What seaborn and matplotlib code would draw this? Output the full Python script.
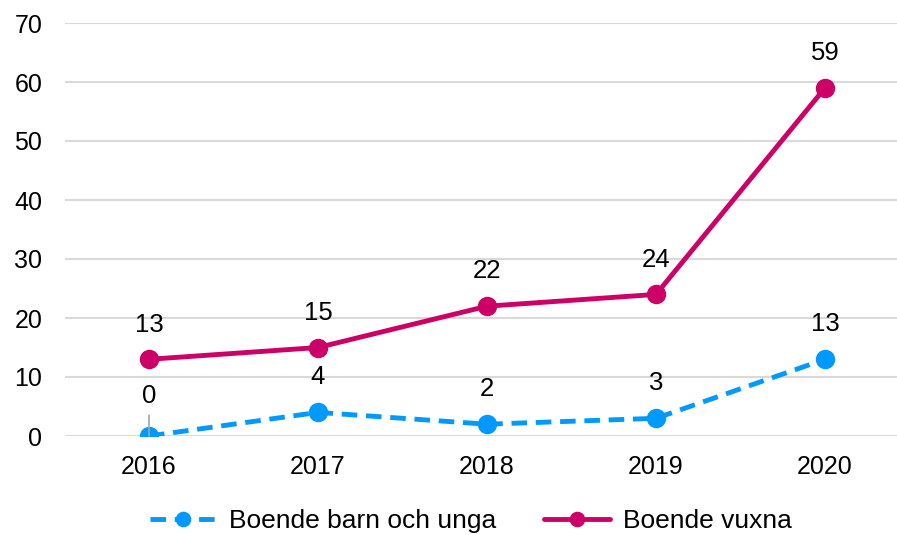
import matplotlib
matplotlib.use("Agg")
import matplotlib.pyplot as plt
import pandas as pd
import seaborn as sns

years = ["2016", "2017", "2018", "2019", "2020"]
barn_unga = [0, 4, 2, 3, 13]
vuxna = [13, 15, 22, 24, 59]

sns.set_style("white")
plt.rcParams['font.family'] = ['Liberation Sans', 'DejaVu Sans']

df = pd.DataFrame({"year": years, "barn": barn_unga, "vuxna": vuxna})

fig = plt.figure(figsize=(8.97, 5.35), dpi=100)
ax = fig.add_axes([64.5 / 897, 99 / 535, 1 - 64.5 / 897, 413 / 535])

blue = "#0099FF"
pink = "#CC0066"

sns.lineplot(data=df, x="year", y="barn", ax=ax, color=blue, lw=3.5,
             marker="o", markersize=14, markeredgewidth=0,
             label="Boende barn och unga", zorder=3)
sns.lineplot(data=df, x="year", y="vuxna", ax=ax, color=pink, lw=3.5,
             marker="o", markersize=14, markeredgewidth=0,
             label="Boende vuxna", zorder=3)
ax.lines[0].set_linestyle((0, (3.2, 1.8)))

# data labels
for i, v in enumerate(vuxna):
    ax.annotate(str(v), (i, v), xytext=(0, 25), textcoords="offset points",
                ha="center", va="center", fontsize=18.5, color="black")
for i, v in enumerate(barn_unga):
    off = 29 if v == 0 else 25.5
    ax.annotate(str(v), (i, v), xytext=(0, off), textcoords="offset points",
                ha="center", va="center", fontsize=18.5, color="black")
# leader line for the 0 label
ax.annotate("", (0, 0), xytext=(0, 15), textcoords="offset points",
            arrowprops=dict(arrowstyle="-", color="#A6A6A6", lw=1.2,
                            shrinkA=0, shrinkB=0))

ax.set_ylim(0, 70)
ax.set_xlim(-0.5, (897 - 149) / 169)
ax.set_yticks(range(0, 71, 10))
ax.yaxis.grid(True, color="#D9D9D9", lw=1.5)
ax.set_axisbelow(True)
for s in ax.spines.values():
    s.set_visible(False)
ax.tick_params(axis="both", length=0, labelsize=18, colors="black")
ax.tick_params(axis="x", pad=14)
ax.tick_params(axis="y", pad=16)
ax.set_xlabel("")
ax.set_ylabel("")

ax.get_legend().remove()
handles, labels = ax.get_legend_handles_labels()
fig.legend(handles, labels, loc="center", bbox_to_anchor=(471 / 897, 14 / 535),
           ncol=2, frameon=False, fontsize=19, handlelength=2.5,
           handletextpad=0.5, columnspacing=1.8, markerscale=0.8,
           labelcolor="black")

fig.savefig("out.png", dpi=100)
